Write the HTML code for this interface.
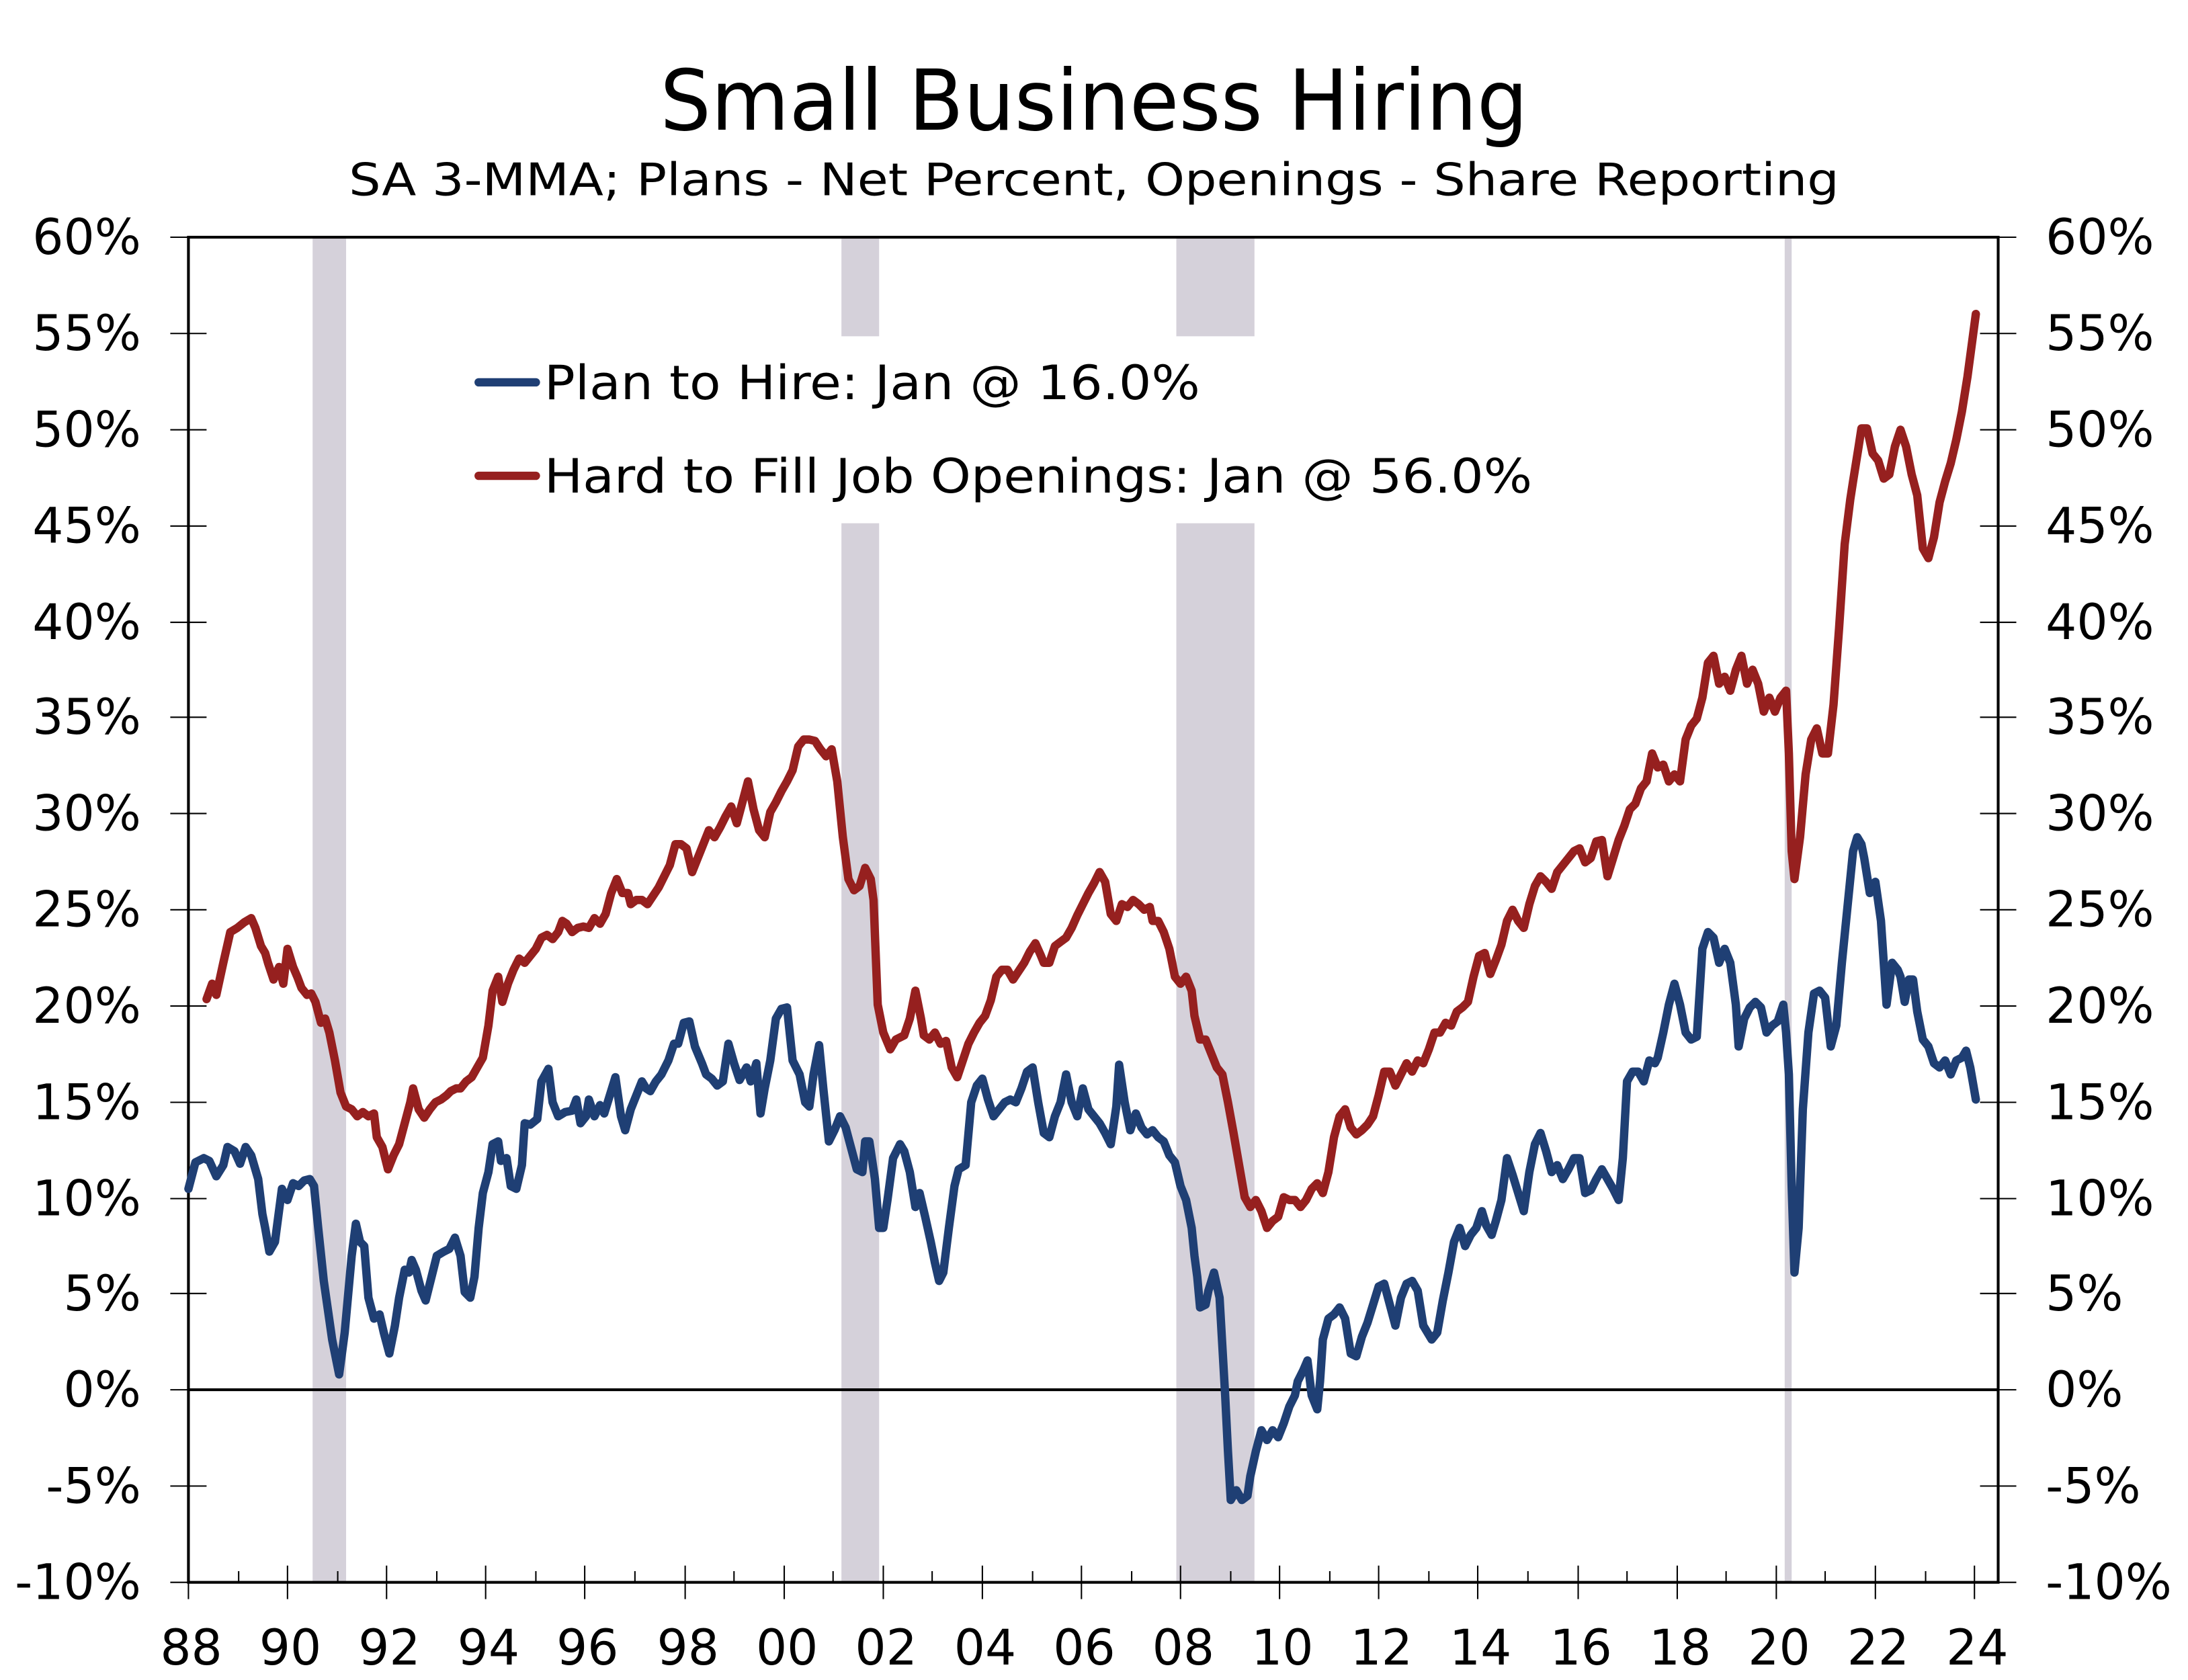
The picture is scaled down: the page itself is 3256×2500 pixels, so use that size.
<!DOCTYPE html>
<html><head><meta charset="utf-8"><style>html,body{margin:0;padding:0;background:#fff}svg{display:block}</style></head>
<body>
<svg width="3256" height="2500" viewBox="0 0 1568 1204" xmlns="http://www.w3.org/2000/svg" font-family="'DejaVu Sans','Liberation Sans',sans-serif">
<rect width="1568" height="1204" fill="#fff"/>
<g fill="#d5d1da">
<rect x="224" y="171" width="24" height="963"/>
<rect x="603" y="171" width="27" height="70"/><rect x="603" y="375" width="27" height="759"/>
<rect x="843" y="171" width="56" height="70"/><rect x="843" y="375" width="56" height="759"/>
<rect x="1279" y="171" width="5" height="963"/>
</g>
<text x="784" y="93" font-size="60" text-anchor="middle" textLength="622" lengthAdjust="spacingAndGlyphs">Small Business Hiring</text>
<text x="784" y="140" font-size="32" text-anchor="middle" textLength="1068" lengthAdjust="spacingAndGlyphs">SA 3-MMA; Plans - Net Percent, Openings - Share Reporting</text>
<g stroke="#000" stroke-width="1" fill="none">
<rect x="135" y="170" width="1297" height="964" stroke-width="2"/>
<line x1="135" y1="996" x2="1432" y2="996" stroke-width="2"/>
<path d="M122 170H148M122 239H148M122 308H148M122 377H148M122 446H148M122 514H148M122 583H148M122 652H148M122 721H148M122 790H148M122 859H148M122 927H148M122 996H148M122 1065H148M122 1134H148"/>
<path d="M1419 170H1445M1419 239H1445M1419 308H1445M1419 377H1445M1419 446H1445M1419 514H1445M1419 583H1445M1419 652H1445M1419 721H1445M1419 790H1445M1419 859H1445M1419 927H1445M1419 996H1445M1419 1065H1445M1419 1134H1445"/>
</g>
<g font-size="35" text-anchor="end">
<text x="101" y="182">60%</text><text x="101" y="251">55%</text><text x="101" y="320">50%</text><text x="101" y="389">45%</text><text x="101" y="458">40%</text><text x="101" y="526">35%</text><text x="101" y="595">30%</text><text x="101" y="664">25%</text><text x="101" y="733">20%</text><text x="101" y="802">15%</text><text x="101" y="871">10%</text><text x="101" y="939">5%</text><text x="101" y="1008">0%</text><text x="101" y="1077">-5%</text><text x="101" y="1146">-10%</text>
</g>
<g font-size="35" text-anchor="start">
<text x="1466" y="182">60%</text><text x="1466" y="251">55%</text><text x="1466" y="320">50%</text><text x="1466" y="389">45%</text><text x="1466" y="458">40%</text><text x="1466" y="526">35%</text><text x="1466" y="595">30%</text><text x="1466" y="664">25%</text><text x="1466" y="733">20%</text><text x="1466" y="802">15%</text><text x="1466" y="871">10%</text><text x="1466" y="939">5%</text><text x="1466" y="1008">0%</text><text x="1466" y="1077">-5%</text><text x="1466" y="1146">-10%</text>
</g>
<g stroke="#000" stroke-width="1">
<path d="M135 1122V1146M206 1122V1146M277 1122V1146M348 1122V1146M419 1122V1146M491 1122V1146M562 1122V1146M633 1122V1146M704 1122V1146M775 1122V1146M846 1122V1146M917 1122V1146M988 1122V1146M1059 1122V1146M1131 1122V1146M1202 1122V1146M1273 1122V1146M1344 1122V1146M1415 1122V1146"/>
<path d="M171 1126V1134M242 1126V1134M313 1126V1134M384 1126V1134M455 1126V1134M526 1126V1134M597 1126V1134M668 1126V1134M740 1126V1134M811 1126V1134M882 1126V1134M953 1126V1134M1024 1126V1134M1095 1126V1134M1166 1126V1134M1237 1126V1134M1308 1126V1134M1380 1126V1134"/>
</g>
<g font-size="35" text-anchor="middle">
<text x="137" y="1193">88</text><text x="208" y="1193">90</text><text x="279" y="1193">92</text><text x="350" y="1193">94</text><text x="421" y="1193">96</text><text x="493" y="1193">98</text><text x="564" y="1193">00</text><text x="635" y="1193">02</text><text x="706" y="1193">04</text><text x="777" y="1193">06</text><text x="848" y="1193">08</text><text x="919" y="1193">10</text><text x="990" y="1193">12</text><text x="1061" y="1193">14</text><text x="1133" y="1193">16</text><text x="1204" y="1193">18</text><text x="1275" y="1193">20</text><text x="1346" y="1193">22</text><text x="1417" y="1193">24</text>
</g>
<line x1="343" y1="274" x2="384" y2="274" stroke="#1f3f74" stroke-width="6" stroke-linecap="round"/>
<line x1="343" y1="341" x2="384" y2="341" stroke="#96201f" stroke-width="6" stroke-linecap="round"/>
<text x="390" y="286" font-size="34" textLength="470" lengthAdjust="spacingAndGlyphs">Plan to Hire: Jan @ 16.0%</text>
<text x="390" y="353" font-size="34" textLength="708" lengthAdjust="spacingAndGlyphs">Hard to Fill Job Openings: Jan @ 56.0%</text>
<polyline fill="none" stroke="#96201f" stroke-width="6" stroke-linejoin="round" stroke-linecap="round" points="148,716 152,705 155,713 160,690 165,668 170,665 175,661 180,658 183,665 187,678 190,683 192,690 196,702 200,693 203,705 206,680 210,693 213,700 216,708 220,713 223,712 226,718 230,733 233,730 236,740 240,760 244,783 248,793 252,795 256,800 260,797 264,800 268,798 270,815 274,822 278,838 282,828 286,820 290,805 294,790 296,780 300,795 304,801 308,795 312,790 316,788 320,785 323,782 327,780 330,780 334,775 338,772 342,765 346,758 350,735 353,710 357,700 360,718 364,705 368,695 372,687 376,690 380,685 384,680 388,672 392,670 396,673 400,668 403,660 406,662 410,668 414,665 418,664 422,665 426,658 430,662 434,655 438,640 442,630 446,640 450,640 452,648 456,645 460,645 464,648 468,642 472,636 476,628 480,620 484,605 488,605 492,608 496,625 500,615 504,605 508,595 512,600 516,593 520,585 524,578 528,590 532,575 536,560 540,580 544,595 548,600 552,582 556,575 560,567 564,560 568,552 572,535 576,530 580,530 584,531 588,537 592,542 596,537 600,560 604,600 608,630 612,638 616,635 620,622 624,630 626,645 629,720 633,740 638,752 642,745 648,742 652,730 656,710 660,730 662,742 666,745 670,740 674,748 678,746 682,765 686,772 690,760 694,748 698,740 702,733 706,728 710,717 714,700 718,695 722,695 726,702 730,696 734,690 738,682 742,676 746,685 748,690 752,690 756,678 760,675 764,672 768,665 772,656 776,648 780,640 784,633 788,625 792,632 796,655 800,660 804,648 808,650 812,645 816,648 820,652 824,650 826,660 830,660 834,668 838,680 842,700 846,705 850,700 854,710 856,728 860,745 864,745 868,755 872,765 876,770 880,790 884,812 888,835 892,858 896,865 900,860 904,868 908,880 912,875 916,872 920,858 924,860 928,860 932,865 936,860 940,852 944,848 948,855 952,840 956,815 960,800 964,795 968,808 972,813 976,810 980,806 984,800 988,785 992,768 996,768 1000,778 1004,770 1008,762 1012,768 1016,760 1020,762 1024,752 1028,740 1032,740 1036,733 1040,735 1044,725 1048,722 1052,718 1056,700 1060,685 1064,683 1068,698 1072,688 1076,677 1080,660 1084,652 1088,660 1092,665 1096,648 1100,635 1104,628 1108,632 1112,637 1116,625 1120,620 1124,615 1128,610 1132,608 1136,618 1140,615 1144,603 1148,602 1152,628 1156,615 1160,602 1164,592 1168,580 1172,576 1176,565 1180,560 1184,540 1188,550 1192,548 1196,560 1200,555 1204,560 1208,530 1212,520 1216,515 1220,500 1224,475 1228,470 1232,490 1236,485 1240,495 1244,480 1248,470 1252,490 1256,480 1260,490 1264,510 1268,500 1272,510 1276,500 1280,495 1282,540 1284,610 1286,630 1290,600 1294,555 1298,530 1302,522 1306,540 1310,540 1314,505 1318,450 1322,390 1326,358 1328,345 1332,320 1334,307 1338,307 1342,325 1346,330 1350,343 1354,340 1358,320 1362,308 1366,320 1370,340 1374,355 1378,393 1382,400 1386,385 1390,360 1394,345 1398,332 1402,315 1406,295 1410,270 1414,240 1416,225"/>
<polyline fill="none" stroke="#1f3f74" stroke-width="6" stroke-linejoin="round" stroke-linecap="round" points="135,852 140,833 146,830 150,832 155,843 160,835 163,822 168,825 172,834 176,822 180,828 185,845 188,870 190,880 193,897 197,890 202,852 206,860 210,848 214,850 218,846 222,845 225,850 228,880 232,918 238,960 243,985 247,955 252,900 255,877 258,890 261,893 264,930 268,945 272,942 275,955 279,970 283,950 286,930 290,910 293,912 295,903 298,910 302,925 305,932 308,920 313,900 318,897 322,895 326,887 330,900 333,926 337,930 340,915 343,880 346,855 350,840 353,820 357,818 359,832 363,830 366,850 370,852 374,835 376,805 380,806 385,802 388,775 393,766 396,790 400,800 405,797 410,796 413,788 416,805 420,800 422,788 426,800 430,792 433,798 437,785 441,772 445,800 448,810 452,795 456,785 460,775 463,780 466,782 470,775 474,770 479,760 483,748 486,748 490,733 494,732 498,750 503,762 506,770 510,773 514,778 518,775 522,748 526,762 530,774 535,765 538,775 542,762 545,798 548,780 552,760 556,730 560,723 564,722 568,760 573,770 577,790 580,793 583,770 587,749 590,780 594,818 598,810 602,800 606,808 610,823 614,838 618,840 620,818 623,818 627,845 630,880 633,880 636,860 640,830 645,820 648,825 652,840 656,865 659,855 663,872 667,890 670,905 673,918 676,912 680,880 684,850 687,838 692,835 696,790 700,778 704,773 708,788 712,800 716,795 720,790 724,788 728,790 732,780 736,768 740,765 744,790 748,812 752,815 756,800 760,790 764,770 768,790 772,800 776,780 780,795 784,800 788,805 792,812 796,820 800,793 802,763 806,790 810,810 814,798 818,808 822,813 826,810 830,815 834,818 838,828 842,833 846,850 850,860 854,880 856,900 858,915 860,937 864,935 866,925 870,912 874,930 878,1000 880,1040 882,1075 886,1068 890,1075 894,1072 896,1058 900,1040 904,1025 908,1032 912,1025 916,1030 920,1020 924,1008 928,1000 930,990 934,982 937,975 940,1000 944,1010 946,990 948,960 952,945 956,942 960,937 964,945 968,970 972,972 976,958 980,948 984,935 988,922 992,920 996,935 1000,950 1004,930 1008,920 1012,918 1016,925 1020,950 1026,960 1030,955 1034,932 1038,912 1042,890 1046,880 1050,893 1054,885 1058,880 1062,868 1065,878 1069,885 1072,875 1076,860 1080,830 1084,842 1088,855 1092,868 1096,840 1100,820 1104,812 1108,825 1112,840 1116,835 1120,845 1124,838 1128,830 1132,830 1136,855 1140,853 1144,845 1148,838 1152,845 1156,852 1160,860 1163,830 1166,775 1170,768 1174,768 1178,775 1182,760 1186,762 1188,758 1192,740 1196,720 1200,705 1204,720 1208,740 1212,745 1216,743 1220,680 1224,668 1228,672 1232,690 1236,680 1240,690 1244,720 1246,750 1250,730 1254,722 1258,718 1262,722 1266,740 1270,735 1274,732 1278,720 1280,740 1282,770 1284,850 1286,912 1289,880 1292,795 1296,740 1300,712 1304,710 1308,715 1312,750 1316,735 1320,690 1324,650 1328,610 1331,600 1334,605 1336,615 1340,640 1344,632 1348,660 1352,720 1356,690 1360,695 1362,700 1365,718 1368,702 1371,702 1374,725 1378,745 1382,750 1386,762 1390,765 1394,760 1398,770 1402,760 1406,758 1409,753 1412,765 1416,788"/>
</svg>
</body></html>
